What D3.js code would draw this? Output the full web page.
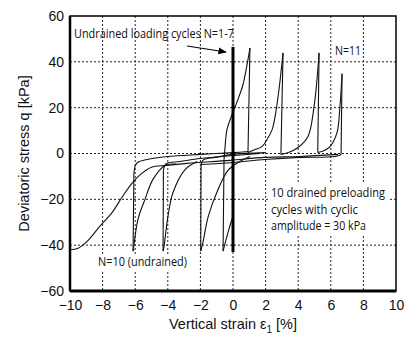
<!DOCTYPE html>
<html>
<head>
<meta charset="utf-8">
<script src="https://cdn.jsdelivr.net/npm/d3@7"></script>
<style>
  body { margin: 0; background: #fff; }
  text { fill: #111; }
</style>
</head>
<body>
<div id="chart"></div>
<script>
// Axis ticks
var xTicks = [-10, -8, -6, -4, -2, 0, 2, 4, 6, 8, 10];
var yTicks = [-60, -40, -20, 0, 20, 40, 60];

// Undrained loading cycles N=1-7 (thick vertical)
var undrainedLine = [[0.0, -43], [0.0, 46.5]];

// Initial S-shaped curve running into the lower band near q = 0
var sCurve = [[-10, -42], [-9.5, -41.3], [-8.9, -38], [-8.2, -32], [-7.4, -25.6], [-6.8, -19],
  [-6.2, -13], [-5.6, -8.7], [-5.0, -6], [-4.1, -5.2], [-2.82, -4.3], [-0.18, -3],
  [1.96, -1.7], [4.1, -1.3], [6.44, -0.4]];

// Extension cycles: descent to trough, vertical reversal, knee back into the band
var troughCycles = [
  [
    [[-3.5, -4.6], [-4.17, -5.2], [-4.91, -11.3], [-5.4, -20], [-5.83, -28.7], [-6.07, -39.6], [-6.13, -42.6]],
    [[-6.13, -42.6], [-6.08, -9]],
    [[-6.08, -9], [-6.0, -5.4], [-5.85, -3.9], [-5.28, -2.6], [-4.0, -1.3], [-2.0, -0.4], [0, 0.4], [0.92, 0.9]]
  ],
  [
    [[-2.2, -3.5], [-2.94, -7], [-3.68, -17], [-3.99, -27.4], [-4.23, -40.4], [-4.29, -42.6]],
    [[-4.29, -42.6], [-4.27, -7.5]],
    [[-4.27, -7.5], [-4.2, -5.4], [-4.05, -4.3], [-3.25, -3.5], [-2.0, -2.2], [0, -0.9], [1.65, 0]]
  ],
  [
    [[1.04, -1.3], [0.31, -3.9], [-0.31, -7.4], [-0.92, -15.7], [-1.53, -27.8], [-1.84, -38.7], [-1.98, -42.6]],
    [[-1.98, -42.6], [-1.96, -5.5]],
    [[-1.96, -5.5], [-1.9, -3.6], [-1.78, -2.6], [-1.1, -1.7], [0, -0.4], [1.96, 0.4]]
  ],
  [
    [[0.02, -27], [-0.12, -30], [-0.3, -34.3], [-0.61, -42.6]]
  ]
];

// Compression cycles: trough near 0, then peaks moving to the right (N=11 last)
var peakCycles = [
  [[-0.61, -42.6], [-0.55, -2.6]],
  [[-0.55, -2.6], [-0.49, 2.6], [-0.37, 10.4], [-0.06, 17], [0.3, 23.5], [0.61, 30], [0.86, 38.7], [1.04, 46]],
  [[1.04, 46], [0.92, 0.4]],
  [[0.92, 0.4], [1.35, 1.7], [1.78, 3], [2.09, 6.1], [2.4, 10.4], [2.58, 16], [2.82, 27.8], [3.07, 43.9]],
  [[3.07, 43.9], [2.94, -0.4]],
  [[2.94, -0.4], [3.4, 0.4], [3.99, 2.6], [4.6, 7.4], [4.97, 20.4], [5.15, 32], [5.28, 43.9]],
  [[5.28, 43.9], [5.2, 0.4]],
  [[5.2, 0.4], [5.6, 1.3], [5.95, 3], [6.38, 9.1], [6.56, 20.4], [6.69, 34.8]],
  [[6.69, 34.8], [6.63, -0.4]],
  [[6.63, -0.4], [6.26, -1.3], [4.1, -1.7], [1.96, -2.6], [0, -3.9], [-2.0, -4.8]]
];

var margin = { top: 16, right: 8, bottom: 48, left: 70 },
  width = 396 - margin.left,
  height = 291 - margin.top;

var svg = d3
  .select('#chart')
  .append('svg')
  .attr('width', 404)
  .attr('height', 339)
  .style('font-family', '"Liberation Sans", Arial, sans-serif');

var g = svg.append('g').attr('transform', 'translate(' + margin.left + ',' + margin.top + ')');

var x = d3.scaleLinear().domain([-10, 10]).range([0, width]);
var y = d3.scaleLinear().domain([-60, 60]).range([height, 0]);

// Dotted grid
g.append('g')
  .selectAll('line')
  .data(xTicks.slice(1, -1))
  .enter()
  .append('line')
  .attr('x1', function (d) { return x(d); })
  .attr('x2', function (d) { return x(d); })
  .attr('y1', 0)
  .attr('y2', height)
  .attr('stroke', '#222')
  .attr('stroke-width', 1)
  .attr('stroke-dasharray', '2,2');

g.append('g')
  .selectAll('line')
  .data(yTicks.slice(1, -1))
  .enter()
  .append('line')
  .attr('x1', 0)
  .attr('x2', width)
  .attr('y1', function (d) { return y(d); })
  .attr('y2', function (d) { return y(d); })
  .attr('stroke', '#222')
  .attr('stroke-width', 1)
  .attr('stroke-dasharray', '2,2');

// White boxes behind the inner notes
var noteBoxes = [[268, 182, 122, 54], [95, 254, 95, 16]];
svg.selectAll('rect.notebox')
  .data(noteBoxes)
  .enter()
  .append('rect')
  .attr('class', 'notebox')
  .attr('x', function (d) { return d[0]; })
  .attr('y', function (d) { return d[1]; })
  .attr('width', function (d) { return d[2]; })
  .attr('height', function (d) { return d[3]; })
  .attr('fill', '#fff');

// Axes (labels only)
var fmt = function (d) { return d < 0 ? '\u2212' + Math.abs(d) : d; };

var xAxis = g.append('g')
  .attr('transform', 'translate(0,' + height + ')')
  .call(d3.axisBottom(x).tickValues(xTicks).tickSize(0).tickPadding(9).tickFormat(fmt));
xAxis.select('.domain').remove();
xAxis.selectAll('text').style('font-size', '14px').style('font-family', '"Liberation Sans", Arial, sans-serif').attr('fill', '#111');

var yAxis = g.append('g')
  .call(d3.axisLeft(y).tickValues(yTicks).tickSize(0).tickPadding(6).tickFormat(fmt));
yAxis.select('.domain').remove();
yAxis.selectAll('text').style('font-size', '14px').style('font-family', '"Liberation Sans", Arial, sans-serif').attr('fill', '#111');

// Curves
var line = d3.line()
  .x(function (d) { return x(d[0]); })
  .y(function (d) { return y(d[1]); })
  .curve(d3.curveCatmullRom.alpha(0.5));

var curves = g.append('g').attr('fill', 'none').attr('stroke', '#111').attr('stroke-width', 1.1);

curves.append('path').datum(sCurve).attr('d', line);

troughCycles.forEach(function (cycle) {
  cycle.forEach(function (seg) {
    curves.append('path').datum(seg).attr('d', line);
  });
});

peakCycles.forEach(function (seg) {
  curves.append('path').datum(seg).attr('d', line);
});

g.append('path')
  .datum(undrainedLine)
  .attr('d', line)
  .attr('fill', 'none')
  .attr('stroke', '#000')
  .attr('stroke-width', 3);

// Frame
g.append('rect')
  .attr('width', width)
  .attr('height', height)
  .attr('fill', 'none')
  .attr('stroke', '#000')
  .attr('stroke-width', 1.5);
g.append('line').attr('x1', 0).attr('x2', 0).attr('y1', 0).attr('y2', height)
  .attr('stroke', '#000').attr('stroke-width', 2.5);
g.append('line').attr('x1', 0).attr('x2', width).attr('y1', height).attr('y2', height)
  .attr('stroke', '#000').attr('stroke-width', 3);

// Annotations
var noteFont = '"Open Sans", "Noto Sans", sans-serif';

svg.append('defs').append('marker')
  .attr('id', 'arrow')
  .attr('viewBox', '0 0 10 10')
  .attr('refX', 9)
  .attr('refY', 5)
  .attr('markerWidth', 7)
  .attr('markerHeight', 7)
  .attr('orient', 'auto')
  .append('path')
  .attr('d', 'M0,1L10,5L0,9Z')
  .attr('fill', '#000');

svg.append('line')
  .attr('x1', 187).attr('y1', 46).attr('x2', 226).attr('y2', 52)
  .attr('stroke', '#000').attr('stroke-width', 1.2)
  .attr('marker-end', 'url(#arrow)');

svg.append('text')
  .attr('x', 74).attr('y', 38)
  .style('font-family', noteFont).style('font-size', '13px')
  .attr('textLength', 160).attr('lengthAdjust', 'spacingAndGlyphs')
  .text('Undrained loading cycles N=1-7');

svg.append('text')
  .attr('x', 335).attr('y', 55)
  .style('font-family', noteFont).style('font-size', '13px')
  .attr('textLength', 26).attr('lengthAdjust', 'spacingAndGlyphs')
  .text('N=11');

svg.append('text')
  .attr('x', 98).attr('y', 266)
  .style('font-family', noteFont).style('font-size', '13px')
  .attr('textLength', 89).attr('lengthAdjust', 'spacingAndGlyphs')
  .text('N=10 (undrained)');

var noteLines = [['10 drained preloading', 114], ['cycles with cyclic', 87], ['amplitude = 30 kPa', 95]];
svg.append('g')
  .selectAll('text')
  .data(noteLines)
  .enter()
  .append('text')
  .attr('x', 271)
  .attr('y', function (d, i) { return 197 + i * 16.5; })
  .style('font-family', noteFont).style('font-size', '13px')
  .attr('textLength', function (d) { return d[1]; })
  .attr('lengthAdjust', 'spacingAndGlyphs')
  .text(function (d) { return d[0]; });

// Axis titles
svg.append('text')
  .attr('transform', 'translate(29,' + (margin.top + y(0)) + ') rotate(-90)')
  .attr('text-anchor', 'middle')
  .style('font-size', '14.5px')
  .text('Deviatoric stress q [kPa]');

var xTitle = svg.append('text')
  .attr('x', margin.left + x(0))
  .attr('y', 329)
  .attr('text-anchor', 'middle')
  .style('font-size', '14.5px');
xTitle.append('tspan').text('Vertical strain \u03b5');
xTitle.append('tspan').attr('dy', 4).style('font-size', '10px').text('1');
xTitle.append('tspan').attr('dy', -4).text(' [%]');
</script>
</body>
</html>
